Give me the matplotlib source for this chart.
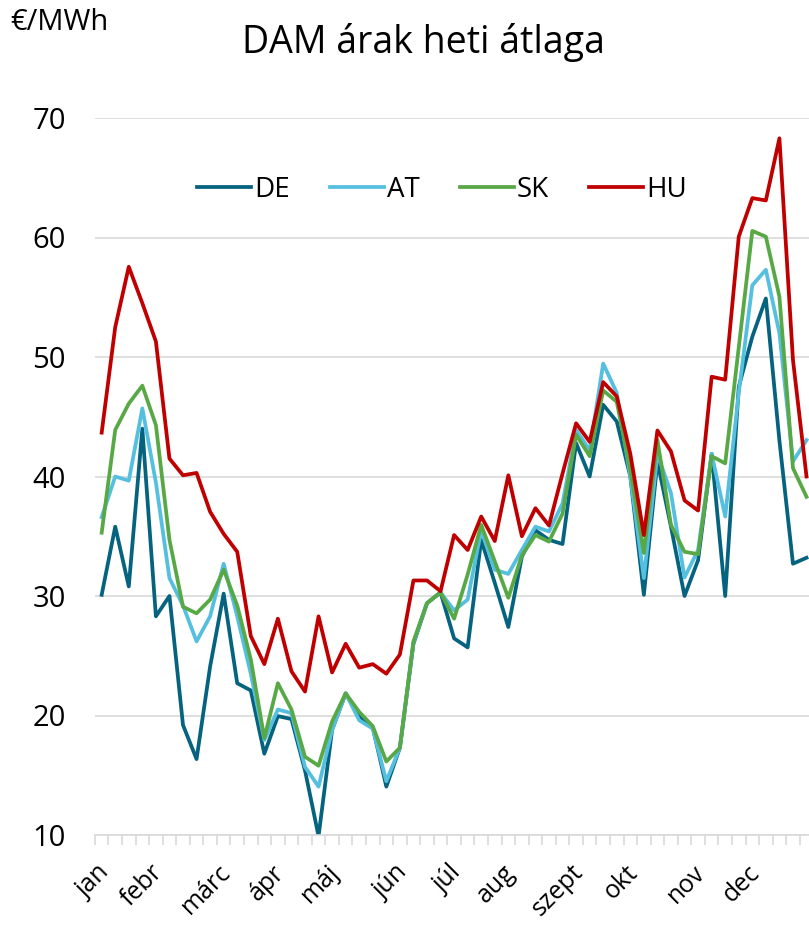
import matplotlib
matplotlib.use('Agg')
import matplotlib.pyplot as plt
import matplotlib.transforms as mtransforms
import numpy as np

plt.rcParams['font.family'] = ['Open Sans', 'DejaVu Sans']

# weekly average day-ahead prices, EUR/MWh (53 weeks)
de = [30.1, 35.8, 30.8, 44.0, 28.3, 30.0, 19.2, 16.35, 24.1, 30.2,
      22.7, 22.1, 16.8, 19.95, 19.7, 15.4, 9.9, 18.8, 21.85, 19.95,
      19.0, 14.05, 17.3, 26.0, 29.4, 30.3, 26.45, 25.7, 34.7, 31.1,
      27.4, 33.3, 35.5, 34.7, 34.35, 42.8, 40.0, 46.0, 44.6, 40.0,
      30.1, 41.25, 35.8, 30.0, 33.0, 41.9, 30.0, 47.5, 51.7, 54.9,
      43.0, 32.7, 33.2]
at = [36.6, 40.0, 39.65, 45.7, 39.5, 31.5, 29.2, 26.2, 28.3, 32.7,
      28.3, 23.5, 17.95, 20.5, 20.2, 15.7, 14.05, 18.8, 21.85, 19.6,
      18.9, 14.5, 17.3, 26.1, 29.4, 30.3, 28.8, 29.7, 35.5, 32.2,
      31.85, 33.85, 35.8, 35.4, 37.75, 43.9, 42.2, 49.45, 47.0, 40.0,
      31.5, 41.9, 38.6, 31.55, 33.85, 41.9, 36.65, 47.0, 56.0, 57.3,
      52.0, 41.25, 43.05]
sk = [35.3, 43.9, 46.1, 47.6, 44.3, 34.7, 29.1, 28.55, 29.7, 32.2,
      29.2, 24.7, 18.1, 22.7, 20.5, 16.55, 15.8, 19.5, 21.85, 20.3,
      19.1, 16.15, 17.3, 26.2, 29.4, 30.3, 28.1, 31.8, 35.95, 32.9,
      29.85, 33.4, 35.1, 34.55, 36.9, 43.5, 41.7, 47.2, 46.25, 40.55,
      33.6, 43.05, 35.95, 33.7, 33.5, 41.7, 41.1, 50.8, 60.55, 60.07,
      55.05, 40.7, 38.3]
hu = [43.67, 52.5, 57.55, 54.5, 51.3, 41.5, 40.1, 40.3, 37.05, 35.2,
      33.7, 26.65, 24.3, 28.1, 23.7, 22.0, 28.3, 23.6, 26.0, 24.0,
      24.3, 23.5, 25.1, 31.3, 31.3, 30.4, 35.1, 33.85, 36.65, 34.6,
      40.1, 35.0, 37.35, 35.9, 40.25, 44.45, 42.9, 47.9, 46.7, 41.9,
      35.1, 43.85, 42.1, 38.0, 37.15, 48.35, 48.1, 60.07, 63.3, 63.1,
      68.3, 49.75, 40.0]

months = ['jan', 'febr', 'márc', 'ápr', 'máj', 'jún', 'júl', 'aug',
          'szept', 'okt', 'nov', 'dec']
month_week = [0, 4, 9, 13, 17, 22, 26, 30, 35, 39, 44, 48]

series = [('DE', de, '#05637f'), ('AT', at, '#55bfe0'),
          ('SK', sk, '#58a846'), ('HU', hu, '#c00000')]

W, H = 809, 925
fig = plt.figure(figsize=(W / 100, H / 100), dpi=100)
# plot area runs a little past the right edge of the picture, like the original crop
ax = fig.add_axes([94.9 / W, (H - 835) / H, (813.3 - 94.9) / W, (835 - 118) / H])

weeks = np.arange(len(de))
for name, vals, col in series:
    ax.plot(weeks, vals, color=col, lw=2.7, label=name, solid_joinstyle='round')

ax.set_xlim(-0.5, len(de) - 0.5)
ax.set_ylim(10, 70)
ax.set_yticks(np.arange(10, 71, 10))
ax.yaxis.grid(True, color='#d9d9d9', lw=1.2)
ax.set_axisbelow(True)
for s in ['left', 'right', 'top']:
    ax.spines[s].set_visible(False)
ax.spines['bottom'].set_color('#d9d9d9')
ax.spines['bottom'].set_linewidth(1.2)

ax.tick_params(axis='y', length=0, labelsize=21, pad=21)
ax.set_xticks(np.arange(-0.5, len(de), 1))
ax.set_xticklabels([])
ax.tick_params(axis='x', length=7, width=1.2, color='#d9d9d9', direction='out')

# month labels, rotated, anchored at their end
trans = mtransforms.blended_transform_factory(ax.transData, fig.transFigure)
for m, wk in zip(months, month_week):
    ax.text(wk - 0.4, (H - 860) / H, m, transform=trans, rotation=45,
            rotation_mode='anchor', ha='right', va='top', fontsize=18)

fig.text(423 / W, 1 - 42 / H, 'DAM árak heti átlaga', ha='center', va='center',
         fontsize=27)
fig.text(10 / W, 1 - 22 / H, '€/MWh', ha='left', va='center', fontsize=21)

fig.legend(loc='center', bbox_to_anchor=(442 / W, 1 - 190 / H), ncol=4,
           frameon=False, fontsize=20, handlelength=1.95, handletextpad=0.1,
           columnspacing=1.45)

fig.savefig('out.png', dpi=100, facecolor='white')
